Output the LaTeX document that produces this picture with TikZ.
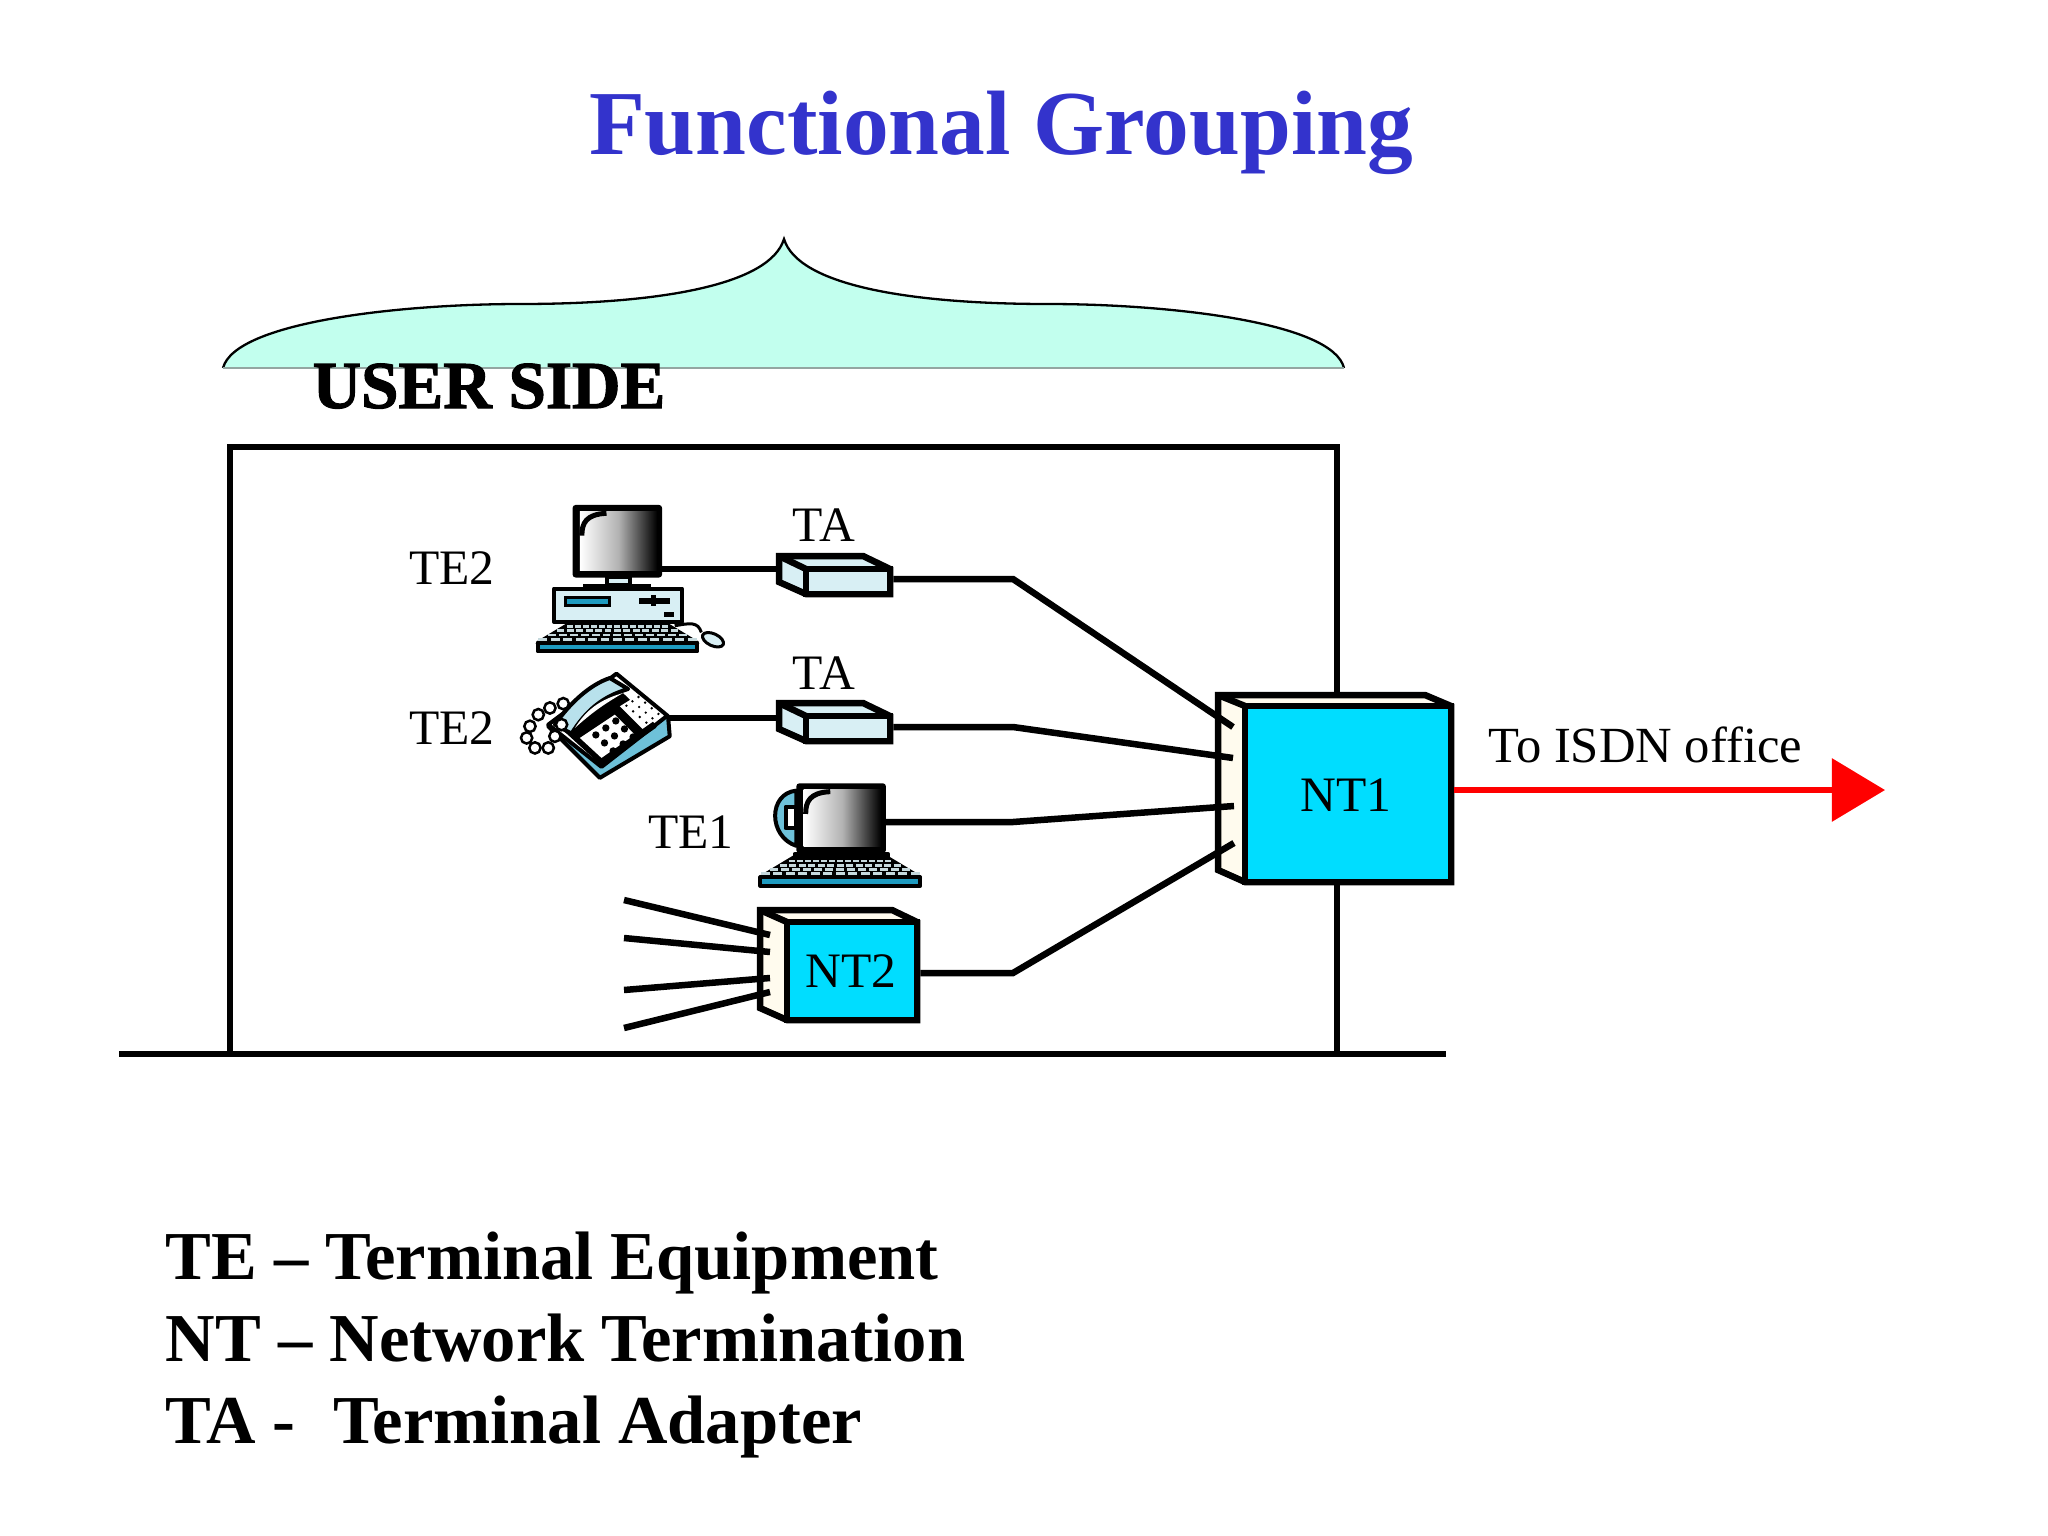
\documentclass[tikz,border=0pt]{standalone}
\usepackage{fontspec}
\setmainfont{Liberation Serif}
\newfontfamily\heavyfont[FakeBold=1.6]{Liberation Serif Bold}
\usetikzlibrary{arrows.meta}
\definecolor{titleblue}{HTML}{3333CC}
\definecolor{braceaqua}{HTML}{C2FFEE}
\definecolor{ntcyan}{HTML}{00DDFF}
\definecolor{sidecream}{HTML}{FFFBEE}
\definecolor{paleblue}{HTML}{D8EFF4}
\definecolor{midblue}{HTML}{6EC1D9}
\definecolor{deepblue}{HTML}{1E9BC0}
\tikzset{
  wire/.style={line width=0.065cm, line join=miter},
  lbl/.style={anchor=base, inner sep=0pt, font=\fontsize{14.1}{16}\selectfont},
  legend/.style={anchor=base west, inner sep=0pt, font=\fontsize{19.5}{22}\selectfont\bfseries},
  ntface/.style={draw, line width=0.065cm, fill=ntcyan, inner sep=0pt, font=\fontsize{14}{16}\selectfont},
  taface/.style={draw, line width=0.065cm, fill=paleblue, inner sep=0pt},
  bevel/.style={draw, line width=0.065cm, line join=miter},
  iconline/.style={line width=0.04cm, line join=round},
  zoomed/.style={x=0.003333cm, y=-0.003333cm},
}
% monitor, top left corner at the origin
\newcommand{\screenbox}[1]{%
  \fill[black, rounded corners=0.03cm] (0,0) rectangle (269,#1);
  \shade[left color=white, right color=black, middle color=gray!60!white] (22,20) rectangle (254,#1-21);
  \draw[line width=0.05cm] (28,92) .. controls (28,55) and (40,28) .. (102,25);
}
% keyboard, middle of the lower edge at the origin
\newcommand{\keybd}{%
  \filldraw[iconline, fill=black] (-140,-85) -- (140,-85) -- (240,-25) -- (-240,-25) -- cycle;
  \foreach \r in {0,...,3}
    \foreach \k in {-6,...,6}
      \fill[paleblue!80!gray] (\k*24+\k*\r*4.5-9-\r*1.5,-79+\r*13) rectangle ++(18+\r*3,8);
  \filldraw[iconline, fill=deepblue] (-240,-25) rectangle (240,0);
}
\begin{document}
\begin{tikzpicture}[x=0.01cm, y=-0.01cm]
  \useasboundingbox (0,0) rectangle (2048,1536);
  \node (title) [anchor=base, inner sep=0pt, text=titleblue, font=\fontsize{26}{30}\selectfont\bfseries] at (1001,154) {Functional Grouping};

  % the brace
  \filldraw[fill=braceaqua, draw=black, line width=0.023cm]
     (223,368) .. controls (235,322) and (400,304) .. (520,304)
     .. controls (660,304) and (770,285) .. (784,239)
     .. controls (798,285) and (908,304) .. (1048,304)
     .. controls (1168,304) and (1333,322) .. (1344,368);
  \draw[gray!70!braceaqua, line width=0.012cm] (223,368) -- (1344,368);
  \node (userside) [anchor=base, inner sep=0pt, font=\fontsize{19.1}{22}\selectfont\heavyfont] at (489,408) {USER SIDE};

  % frame and ground
  \draw[wire] (230,1054) -- (230,447) -- (1337,447) -- (1337,1054);
  \draw[wire] (119,1054) -- (1446,1054);

  % computer
  \begin{scope}[shift={(500,480)}, zoomed]
    \begin{scope}[shift={(218,75)}]
      \screenbox{218}
    \end{scope}
    \filldraw[iconline, fill=paleblue] (320,290) rectangle (390,315);
    \fill[black] (250,312) rectangle (455,325);
    \filldraw[iconline, fill=paleblue] (162,326) rectangle (547,426);
    \filldraw[line width=0.03cm, fill=deepblue] (197,352) rectangle (328,378);
    \draw[line width=0.06cm] (418,363) -- (512,363);
    \draw[line width=0.05cm] (462,345) -- (462,380);
    \fill[black] (492,397) rectangle (524,413);
    \begin{scope}[shift={(353,515)}]
      \keybd
    \end{scope}
    \draw[line width=0.03cm] (525,438) .. controls (570,430) and (595,425) .. (605,458);
    \filldraw[line width=0.03cm, fill=paleblue, rotate around={-25:(640,480)}] (640,480) ellipse (34 and 18);
  \end{scope}

  % telephone
  \begin{scope}[shift={(500,480)}, zoomed]
    \filldraw[iconline, fill=midblue] (145,740) -- (300,895) -- (510,770) -- (505,710) -- cycle;
    \filldraw[iconline, fill=white] (145,735) -- (350,582) -- (503,708) -- (305,862) -- cycle;
    \filldraw[iconline, fill=black] (185,740) -- (345,625) -- (465,740) -- (305,850) -- cycle;
    \fill[white] (240,775) -- (345,705) -- (405,765) -- (305,835) -- cycle;
    \fill[white] (360,680) -- (397,657) -- (475,715) -- (428,748) -- cycle;
    \foreach \r in {0,1,2}
      \foreach \k in {0,1,2}
        \fill[black] (288+\k*30+\r*26,766-\k*21+\r*24) circle (11);
    \foreach \r in {0,...,3}
      \foreach \k in {0,1,2}
        \fill[black] (380+\k*18+\r*20,678-\k*13+\r*17) circle (4);
    \filldraw[iconline, fill=paleblue!70!midblue] (165,735) .. controls (210,670) and (270,615) .. (330,595)
       -- (385,628) .. controls (310,650) and (260,690) .. (215,762) -- cycle;
    \fill[white] (225,745) .. controls (260,690) and (300,660) .. (370,640) .. controls (310,675) and (275,700) .. (225,745);
    \foreach \p in {(90,740),(115,705),(150,685),(190,672),(185,735),(165,770),(145,805),(105,805),(80,775)}
      \filldraw[line width=0.025cm, fill=white] \p circle (17);
  \end{scope}

  % laptop
  \begin{scope}[shift={(600,760)}, zoomed]
    \filldraw[iconline, fill=midblue] (590,92) .. controls (505,100) and (505,230) .. (590,258) -- cycle;
    \filldraw[iconline, fill=white] (558,140) rectangle (590,205);
    \begin{scope}[shift={(590,70)}]
      \screenbox{210}
    \end{scope}
    \filldraw[iconline, fill=paleblue] (585,282) rectangle (865,300);
    \begin{scope}[shift={(722,378)}]
      \keybd
    \end{scope}
  \end{scope}

  % the boxes
  \filldraw[bevel, fill=paleblue] (779,556) -- (863,556) -- (890,569) -- (890,594) -- (806,594) -- (779,582) -- cycle;
  \draw[bevel] (779,556) -- (806,569);
  \node (taone) [taface, minimum width=0.84cm, minimum height=0.25cm] at (848,581.5) {};
  \filldraw[bevel, fill=paleblue] (779,703) -- (863,703) -- (890,716) -- (890,741) -- (806,741) -- (779,729) -- cycle;
  \draw[bevel] (779,703) -- (806,716);
  \node (tatwo) [taface, minimum width=0.84cm, minimum height=0.25cm] at (848,728.5) {};

  \filldraw[bevel, fill=sidecream] (760,910) -- (892,910) -- (917,922) -- (917,1020) -- (787,1020) -- (760,1008) -- cycle;
  \draw[bevel] (760,910) -- (787,922);
  \node (nttwo) [ntface, minimum width=1.30cm, minimum height=0.98cm] at (852,971) {};
  \node (nttwolbl) [lbl] at (851,987) {NT2};

  \filldraw[bevel, fill=sidecream] (1218,695) -- (1425,695) -- (1451,706) -- (1451,882) -- (1245,882) -- (1218,870) -- cycle;
  \draw[bevel] (1218,695) -- (1245,706);
  \node (ntone) [ntface, minimum width=2.06cm, minimum height=1.76cm] at (1348,794) {};
  \node (ntonelbl) [lbl] at (1346,811) {NT1};

  % wire ends
  \coordinate (pcout) at (662,569);
  \coordinate (phoneout) at (668,718);
  \coordinate (laptopout) at (886,822);
  \coordinate (tainone) at (776,569);
  \coordinate (taintwo) at (776,718);
  \coordinate (bendone) at (1013,579);
  \coordinate (bendtwo) at (1013,727);
  \coordinate (bendthree) at (1013,822);
  \coordinate (bendfour) at (1013,973);
  \coordinate (portone) at (1233,727);
  \coordinate (porttwo) at (1233,758);
  \coordinate (portthree) at (1234,806);
  \coordinate (portfour) at (1234,843);
  \coordinate (isdnend) at (1885,790);

  \draw[wire] (pcout) -- (tainone);
  \draw[wire] (phoneout) -- (taintwo);
  \draw[wire] (taone.east |- bendone) -- (bendone) -- (portone);
  \draw[wire] (tatwo.east |- bendtwo) -- (bendtwo) -- (porttwo);
  \draw[wire] (laptopout) -- (bendthree) -- (portthree);
  \draw[wire] (nttwo.east |- bendfour) -- (bendfour) -- (portfour);

  % open wires into NT2
  \foreach \name/\a/\b in {one/900/935,two/938/952,three/990/978,four/1028/992}
  {
    \coordinate (free\name) at (624,\a);
    \coordinate (in\name) at (770,\b);
    \draw[wire] (free\name) -- (in\name);
  }

  \draw[red, line width=0.06cm, -{Triangle[length=0.53cm,width=0.62cm]}] (ntone.east |- isdnend) -- (isdnend);

  % labels
  \node (tetwoa) [lbl] at (452,584) {TE2};
  \node (tetwob) [lbl] at (452,744) {TE2};
  \node (teone) [lbl] at (691,848) {TE1};
  \node (talbla) [lbl] at (824,541) {TA};
  \node (talblb) [lbl] at (824,689) {TA};
  \node (isdn) [lbl, anchor=base west, font=\fontsize{14.4}{16}\selectfont] at (1488,762) {To ISDN office};

  \node (legendte) [legend] at (165,1279) {TE -- Terminal Equipment};
  \node (legendnt) [legend] at (165,1361) {NT -- Network Termination};
  \node (legendta) [legend] at (165,1443) {TA -\ \ \kern0.03cm Terminal Adapter};
\end{tikzpicture}
\end{document}
